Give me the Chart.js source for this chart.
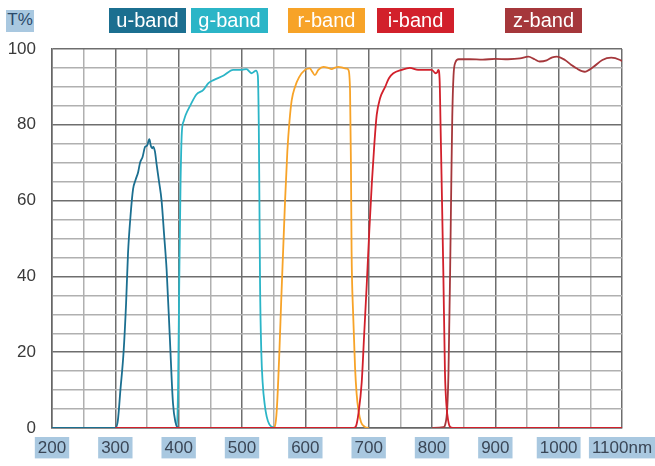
<!DOCTYPE html>
<html>
<head>
<meta charset="utf-8">
<script src="https://cdn.jsdelivr.net/npm/chart.js@4"></script>
<style>
  body { margin: 0; background: #fff; }
  #wrap { position: relative; width: 655px; height: 466px; }
  .tag {
    position: absolute; top: 8px; height: 25px; width: 77px;
    color: #fff; font: 20px "Liberation Sans", Arial, sans-serif;
    line-height: 25px; text-align: center;
  }
  #unit {
    position: absolute; left: 6px; top: 10px; width: 28px; height: 22px;
    background: #a9c8e0; color: #2b4a6a; line-height: 22px; text-align: center;
    font: 17px "Liberation Sans", Arial, sans-serif;
  }
</style>
</head>
<body>
<div id="wrap">
  <canvas id="bands" width="655" height="466"></canvas>
  <div id="unit">T%</div>
  <div id="legend"></div>
</div>
<script>
// transmission curves, wavelength in nm / transmission in %
const uNm = [200, 300, 304, 308, 313, 317, 320, 324, 328, 332, 336, 339, 343, 347, 350, 353.7, 356, 358, 360, 362.6, 365.3, 369, 373, 377, 381, 386, 391, 395, 398, 401];
const uT = [0, 0, 2, 10, 20, 33, 46, 56, 63, 65.5, 67.5, 70, 71.5, 74.2, 74.5, 76.2, 74.5, 73.8, 74.2, 72.9, 69.4, 65, 60, 51, 41.7, 24, 6.6, 1.5, 0.2, 0];

const gNm = [393, 397, 399, 401, 403, 405, 408, 411, 418, 428, 439, 447, 455, 471, 486, 500, 507, 515, 519, 522, 525, 526.5, 527.5, 528.5, 530.5, 532.6, 536, 539, 543, 547, 555];
const gT = [0, 0, 10, 40, 65, 78, 81, 82.6, 85, 88, 89.2, 91, 91.8, 93, 94.5, 94.5, 94.7, 93.6, 94, 94.3, 93, 80, 60, 38, 20, 12, 6, 3, 1, 0.3, 0];

const rNm = [545, 548, 552, 555, 559, 562, 565, 568, 571.6, 575, 578.5, 583.7, 590, 599.5, 607, 611, 615, 620.5, 628.5, 635, 641.6, 647, 652, 660, 666, 668, 670.6, 672, 673, 675.5, 678.5, 681, 683.8, 688, 694, 700];
const rT = [0, 0, 0.5, 5, 20, 34, 47, 60, 73, 81, 86.5, 90, 92.5, 94.5, 94.9, 94, 93.1, 94.5, 95.3, 95.1, 94.7, 95.1, 95.3, 95, 94.8, 94.5, 89, 70, 47, 30, 16, 9, 4.7, 1.5, 0.3, 0];

const iNm = [300, 676, 680, 684, 689, 693, 697, 701, 705, 709, 712.7, 718, 726, 732, 739, 752, 765, 778, 791.6, 799.5, 804, 806, 808, 810, 812, 813.5, 815, 817.9, 820.5, 823, 825.5, 828.5, 833, 1100];
const iT = [0, 0, 0.5, 4, 12, 25, 38, 52, 64.6, 75, 82.6, 87, 90, 92.3, 93.6, 94.5, 95, 94.5, 94.5, 94.5, 93.8, 93.6, 93.8, 94.5, 92, 80, 67, 41, 14.5, 5.6, 2, 0.3, 0, 0];

const zNm = [800, 818, 821, 824, 826, 828.5, 830.5, 832, 834, 837, 842, 860, 880, 900, 920, 939, 952, 962, 970, 981, 990, 997, 1010, 1020, 1028, 1041, 1055, 1069, 1083, 1097, 1100];
const zT = [0, 0.2, 1, 5, 14.5, 40, 65, 82, 93, 96.5, 97.3, 97.3, 97.2, 97.4, 97.3, 97.5, 98, 97.3, 96.7, 97, 97.8, 98, 97.1, 95.8, 94.9, 94, 95.3, 97.1, 97.7, 97.1, 96.8];

const bandNames = ["u-band", "g-band", "r-band", "i-band", "z-band"];
const bandColors = ["#1b6f90", "#2bb5c7", "#f7a328", "#d2202b", "#a5373b"];
const tagLeft = [109, 191, 288, 377, 505];

const xLabelValues = [200, 300, 400, 500, 600, 700, 800, 900, 1000, 1100];
const xLabelText = ["200", "300", "400", "500", "600", "700", "800", "900", "1000", "1100nm"];
const yLabelValues = [0, 20, 40, 60, 80, 100];

function toPoints(xs, ys) {
  return xs.map((x, i) => ({ x: x, y: ys[i] }));
}

const legend = document.getElementById("legend");
for (let i = 0; i < bandNames.length; i++) {
  const d = document.createElement("div");
  d.className = "tag";
  d.style.left = tagLeft[i] + "px";
  d.style.background = bandColors[i];
  d.textContent = bandNames[i];
  legend.appendChild(d);
}

const series = [
  [uNm, uT], [gNm, gT], [rNm, rT], [iNm, iT], [zNm, zT],
];
const datasets = series.map((s, i) => ({
  label: bandNames[i],
  data: toPoints(s[0], s[1]),
  borderColor: bandColors[i],
  borderWidth: 1.8,
  pointRadius: 0,
  cubicInterpolationMode: "monotone",
  order: i === 3 ? 0 : 1,
}));

const font = { family: "'Liberation Sans', Arial, sans-serif", size: 17 };

new Chart(document.getElementById("bands"), {
  type: "line",
  data: { datasets: datasets },
  options: {
    responsive: false,
    animation: false,
    layout: { padding: { top: 49, right: 33, left: 0, bottom: 0 } },
    plugins: { legend: { display: false }, tooltip: { enabled: false } },
    scales: {
      x: {
        type: "linear",
        min: 200,
        max: 1100,
        afterFit: (scale) => {
          scale.height = 38;
          scale.paddingLeft = 0;
          scale.paddingRight = 0;
        },
        border: { color: "#666", width: 1.5 },
        grid: {
          drawTicks: false,
          lineWidth: 1.5,
          color: (ctx) => (ctx.tick && ctx.tick.value % 100 === 0 ? "#6e6e6e" : "#b0b0b0"),
        },
        ticks: {
          stepSize: 50,
          autoSkip: false,
          maxRotation: 0,
          padding: 10,
          color: "#3a4656",
          font: font,
          showLabelBackdrop: (ctx) => xLabelValues.includes(ctx.tick.value),
          backdropColor: "#a9c8e0",
          backdropPadding: { left: 3, right: 3, top: 1, bottom: 0 },
          callback: (v) => {
            const k = xLabelValues.indexOf(v);
            return k >= 0 ? xLabelText[k] : "";
          },
        },
      },
      y: {
        min: 0,
        max: 100,
        afterFit: (scale) => {
          scale.width = 52;
          scale.paddingTop = 0;
          scale.paddingBottom = 0;
        },
        border: { color: "#666", width: 1.5 },
        grid: {
          drawTicks: false,
          lineWidth: 1.5,
          color: (ctx) => (ctx.tick && ctx.tick.value % 20 === 0 ? "#6e6e6e" : "#b0b0b0"),
        },
        ticks: {
          stepSize: 5,
          autoSkip: false,
          padding: 16,
          color: "#3a3a3a",
          font: font,
          callback: (v) => (yLabelValues.includes(v) ? String(v) : ""),
        },
      },
    },
  },
});
</script>
</body>
</html>
